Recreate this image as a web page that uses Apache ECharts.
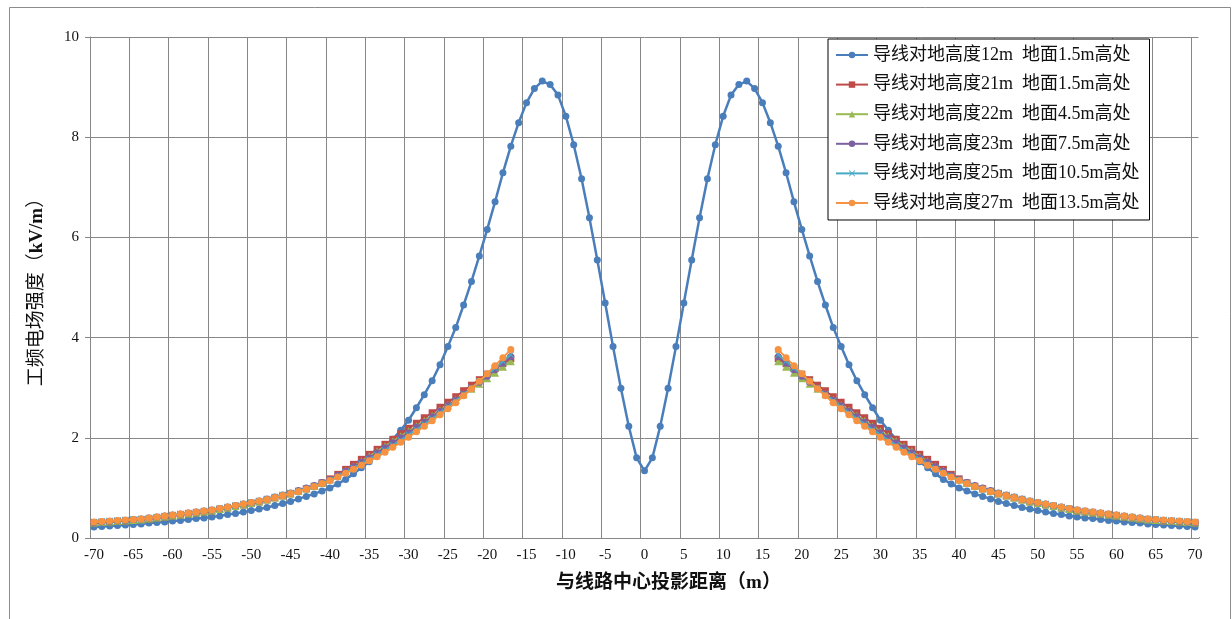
<!DOCTYPE html>
<html>
<head>
<meta charset="utf-8">
<script src="https://cdn.jsdelivr.net/npm/echarts@6/dist/echarts.min.js"></script>
<style>
html,body{margin:0;padding:0;background:#fff;}
#chart{width:1232px;height:619px;}
</style>
</head>
<body>
<div id="chart"></div>
<script>
// Category axis: distance from line centre (m), -70 .. 70
const categories = [];
for (let v = -70; v <= 70; v++) categories.push(String(v));

const seriesNames = [
  '导线对地高度12m  地面1.5m高处',
  '导线对地高度21m  地面1.5m高处',
  '导线对地高度22m  地面4.5m高处',
  '导线对地高度23m  地面7.5m高处',
  '导线对地高度25m  地面10.5m高处',
  '导线对地高度27m  地面13.5m高处'
];

// 12m conductor, -70 .. -1, 0, 1 .. 70
const h12Left = [0.22,0.23,0.24,0.25,0.26,0.27,0.28,0.30,0.31,0.32,
  0.34,0.35,0.37,0.39,0.40,0.42,0.44,0.47,0.49,0.52,
  0.55,0.58,0.61,0.65,0.69,0.73,0.78,0.83,0.88,0.94,
  1.00,1.08,1.17,1.28,1.40,1.52,1.66,1.81,1.97,2.15,
  2.35,2.60,2.86,3.14,3.46,3.82,4.20,4.65,5.12,5.63,
  6.16,6.71,7.29,7.82,8.29,8.69,8.97,9.12,9.05,8.84,
  8.42,7.85,7.17,6.39,5.55,4.69,3.82,2.99,2.23,1.60];
const h12Centre = [1.34];
const h12Right = [1.60,2.23,2.99,3.82,4.69,5.55,6.39,7.17,7.85,8.42,
  8.84,9.05,9.12,8.97,8.69,8.29,7.82,7.29,6.71,6.16,
  5.63,5.12,4.65,4.20,3.82,3.46,3.14,2.86,2.60,2.35,
  2.15,1.97,1.81,1.66,1.52,1.40,1.28,1.17,1.08,1.00,
  0.94,0.88,0.83,0.78,0.73,0.69,0.65,0.61,0.58,0.55,
  0.52,0.49,0.47,0.44,0.42,0.40,0.39,0.37,0.35,0.34,
  0.32,0.31,0.30,0.28,0.27,0.26,0.25,0.24,0.23,0.22];

// other conductors: -70 .. -17 and 17 .. 70
const h21Left = [0.30,0.31,0.32,0.33,0.34,0.35,0.37,0.38,0.40,0.42,
  0.44,0.46,0.48,0.50,0.52,0.54,0.57,0.60,0.63,0.66,
  0.69,0.72,0.76,0.80,0.84,0.88,0.93,0.98,1.03,1.10,
  1.18,1.27,1.37,1.47,1.57,1.67,1.77,1.87,1.97,2.08,
  2.19,2.29,2.40,2.50,2.61,2.71,2.82,2.94,3.05,3.16,
  3.27,3.38,3.48,3.58];
const h21Right = [3.58,3.48,3.38,3.27,
  3.16,3.05,2.94,2.82,2.71,2.61,2.50,2.40,2.29,2.19,
  2.08,1.97,1.87,1.77,1.67,1.57,1.47,1.37,1.27,1.18,
  1.10,1.03,0.98,0.93,0.88,0.84,0.80,0.76,0.72,0.69,
  0.66,0.63,0.60,0.57,0.54,0.52,0.50,0.48,0.46,0.44,
  0.42,0.40,0.38,0.37,0.35,0.34,0.33,0.32,0.31,0.30];

const h22Left = [0.31,0.32,0.33,0.34,0.35,0.36,0.37,0.39,0.41,0.43,
  0.45,0.47,0.49,0.51,0.53,0.55,0.58,0.61,0.64,0.67,
  0.70,0.73,0.77,0.81,0.85,0.89,0.94,0.99,1.04,1.10,
  1.17,1.25,1.34,1.43,1.53,1.63,1.73,1.83,1.93,2.03,
  2.13,2.23,2.34,2.44,2.55,2.65,2.76,2.87,2.98,3.08,
  3.19,3.30,3.42,3.53];
const h22Right = [3.53,3.42,3.30,3.19,
  3.08,2.98,2.87,2.76,2.65,2.55,2.44,2.34,2.23,2.13,
  2.03,1.93,1.83,1.73,1.63,1.53,1.43,1.34,1.25,1.17,
  1.10,1.04,0.99,0.94,0.89,0.85,0.81,0.77,0.73,0.70,
  0.67,0.64,0.61,0.58,0.55,0.53,0.51,0.49,0.47,0.45,
  0.43,0.41,0.39,0.37,0.36,0.35,0.34,0.33,0.32,0.31];

const h23Left = [0.31,0.32,0.33,0.34,0.35,0.37,0.38,0.40,0.42,0.44,
  0.46,0.48,0.50,0.52,0.54,0.56,0.59,0.62,0.65,0.68,
  0.71,0.74,0.78,0.82,0.86,0.90,0.95,1.00,1.05,1.11,
  1.17,1.25,1.33,1.42,1.51,1.60,1.70,1.80,1.90,2.00,
  2.10,2.21,2.31,2.42,2.53,2.64,2.75,2.87,2.99,3.11,
  3.23,3.36,3.49,3.62];
const h23Right = [3.62,3.49,3.36,3.23,
  3.11,2.99,2.87,2.75,2.64,2.53,2.42,2.31,2.21,2.10,
  2.00,1.90,1.80,1.70,1.60,1.51,1.42,1.33,1.25,1.17,
  1.11,1.05,1.00,0.95,0.90,0.86,0.82,0.78,0.74,0.71,
  0.68,0.65,0.62,0.59,0.56,0.54,0.52,0.50,0.48,0.46,
  0.44,0.42,0.40,0.38,0.37,0.35,0.34,0.33,0.32,0.31];

const h25Left = [0.32,0.33,0.34,0.35,0.36,0.37,0.38,0.40,0.42,0.44,
  0.46,0.48,0.50,0.52,0.54,0.56,0.59,0.62,0.65,0.68,
  0.71,0.74,0.78,0.82,0.86,0.90,0.94,0.99,1.04,1.10,
  1.16,1.23,1.31,1.39,1.48,1.57,1.66,1.75,1.85,1.95,
  2.06,2.16,2.27,2.38,2.50,2.62,2.74,2.87,3.00,3.13,
  3.26,3.39,3.53,3.66];
const h25Right = [3.66,3.53,3.39,3.26,
  3.13,3.00,2.87,2.74,2.62,2.50,2.38,2.27,2.16,2.06,
  1.95,1.85,1.75,1.66,1.57,1.48,1.39,1.31,1.23,1.16,
  1.10,1.04,0.99,0.94,0.90,0.86,0.82,0.78,0.74,0.71,
  0.68,0.65,0.62,0.59,0.56,0.54,0.52,0.50,0.48,0.46,
  0.44,0.42,0.40,0.38,0.37,0.36,0.35,0.34,0.33,0.32];

const h27Left = [0.32,0.33,0.34,0.35,0.36,0.37,0.38,0.40,0.42,0.44,
  0.46,0.48,0.50,0.52,0.54,0.56,0.59,0.62,0.65,0.68,
  0.71,0.74,0.77,0.81,0.85,0.89,0.93,0.98,1.03,1.09,
  1.15,1.22,1.29,1.37,1.45,1.54,1.62,1.71,1.81,1.91,
  2.01,2.12,2.23,2.34,2.46,2.58,2.70,2.84,2.98,3.13,
  3.28,3.44,3.60,3.76];
const h27Right = [3.76,3.60,3.44,3.28,
  3.13,2.98,2.84,2.70,2.58,2.46,2.34,2.23,2.12,2.01,
  1.91,1.81,1.71,1.62,1.54,1.45,1.37,1.29,1.22,1.15,
  1.09,1.03,0.98,0.93,0.89,0.85,0.81,0.77,0.74,0.71,
  0.68,0.65,0.62,0.59,0.56,0.54,0.52,0.50,0.48,0.46,
  0.44,0.42,0.40,0.38,0.37,0.36,0.35,0.34,0.33,0.32];

const yTicks = {min: 0, max: 10, interval: 2};

const gap = new Array(33).fill(null); // -16 .. 16 not computed
function withGap(l, r) { return l.concat(gap, r); }

const colors = ['#4A7EBB', '#BE4B48', '#98B954', '#7D60A0', '#46AAC5', '#F69240'];
const symbols = ['circle', 'rect', 'triangle', 'circle',
  'path://M0,1L1,0L5,4L9,0L10,1L6,5L10,9L9,10L5,6L1,10L0,9L4,5Z', 'circle'];
const dataSets = [
  h12Left.concat(h12Centre, h12Right),
  withGap(h21Left, h21Right),
  withGap(h22Left, h22Right),
  withGap(h23Left, h23Right),
  withGap(h25Left, h25Right),
  withGap(h27Left, h27Right)
];

const FONT = "'Liberation Serif','Noto Sans CJK SC',serif";
const GRID = '#878787';

const chart = echarts.init(document.getElementById('chart'), null, {renderer: 'canvas'});
chart.setOption({
  backgroundColor: '#fff',
  animation: false,
  graphic: [{
    type: 'rect', left: 7, top: 5, z: -10,
    shape: {width: 1221, height: 640},
    style: {fill: 'none', stroke: '#8c8c8c', lineWidth: 1}
  }, {
    // hide the closing split line at the right end of the band axis
    type: 'line', z: 1,
    shape: {x1: 1199.5, y1: 36, x2: 1199.5, y2: 537},
    style: {stroke: '#fff', lineWidth: 2}
  }],
  grid: {left: 90, right: 33, top: 37, bottom: 81, containLabel: false},
  legend: {
    orient: 'vertical',
    left: 828, top: 39,
    backgroundColor: '#fff',
    borderColor: '#000', borderWidth: 1,
    padding: [7, 10, 8, 7],
    itemGap: 11.6,
    itemWidth: 32, itemHeight: 8,
    textStyle: {fontFamily: FONT, fontSize: 18, color: '#111'},
    data: seriesNames
  },
  xAxis: {
    type: 'category',
    data: categories,
    boundaryGap: true,
    name: '与线路中心投影距离（m）',
    nameLocation: 'middle',
    nameGap: 36,
    nameTextStyle: {fontFamily: FONT, fontSize: 19, fontWeight: 'bold', color: '#111', padding: [0, 0, 0, 48]},
    axisLine: {lineStyle: {color: GRID, width: 1}},
    axisTick: {show: false, interval: 4},
    axisLabel: {interval: 4, fontFamily: FONT, fontSize: 15, color: '#111', margin: 10},
    splitLine: {show: true, interval: 4, lineStyle: {color: GRID, width: 1}}
  },
  yAxis: {
    type: 'value',
    min: yTicks.min, max: yTicks.max, interval: yTicks.interval,
    name: '工频电场强度（{b|kV/m}）',
    nameLocation: 'middle',
    nameGap: 43,
    nameTextStyle: {fontFamily: FONT, fontSize: 19, color: '#111',
      rich: {b: {fontFamily: FONT, fontSize: 19, fontWeight: 'bold', color: '#111'}}},
    axisLine: {show: true, lineStyle: {color: GRID, width: 1}},
    axisTick: {show: true, length: 5, lineStyle: {color: GRID}},
    axisLabel: {fontFamily: FONT, fontSize: 15, color: '#111', margin: 11},
    splitLine: {show: true, lineStyle: {color: GRID, width: 1}}
  },
  series: dataSets.map((d, i) => ({
    name: seriesNames[i],
    type: 'line',
    data: d,
    connectNulls: false,
    symbol: symbols[i],
    symbolSize: i === 2 ? 8 : 7,
    showSymbol: true,
    showAllSymbol: true,
    lineStyle: {color: colors[i], width: i === 0 ? 2.5 : 2},
    itemStyle: {color: colors[i], borderWidth: 0},
    emphasis: {disabled: true},
    z: 2 + i
  }))
});
</script>
</body>
</html>
